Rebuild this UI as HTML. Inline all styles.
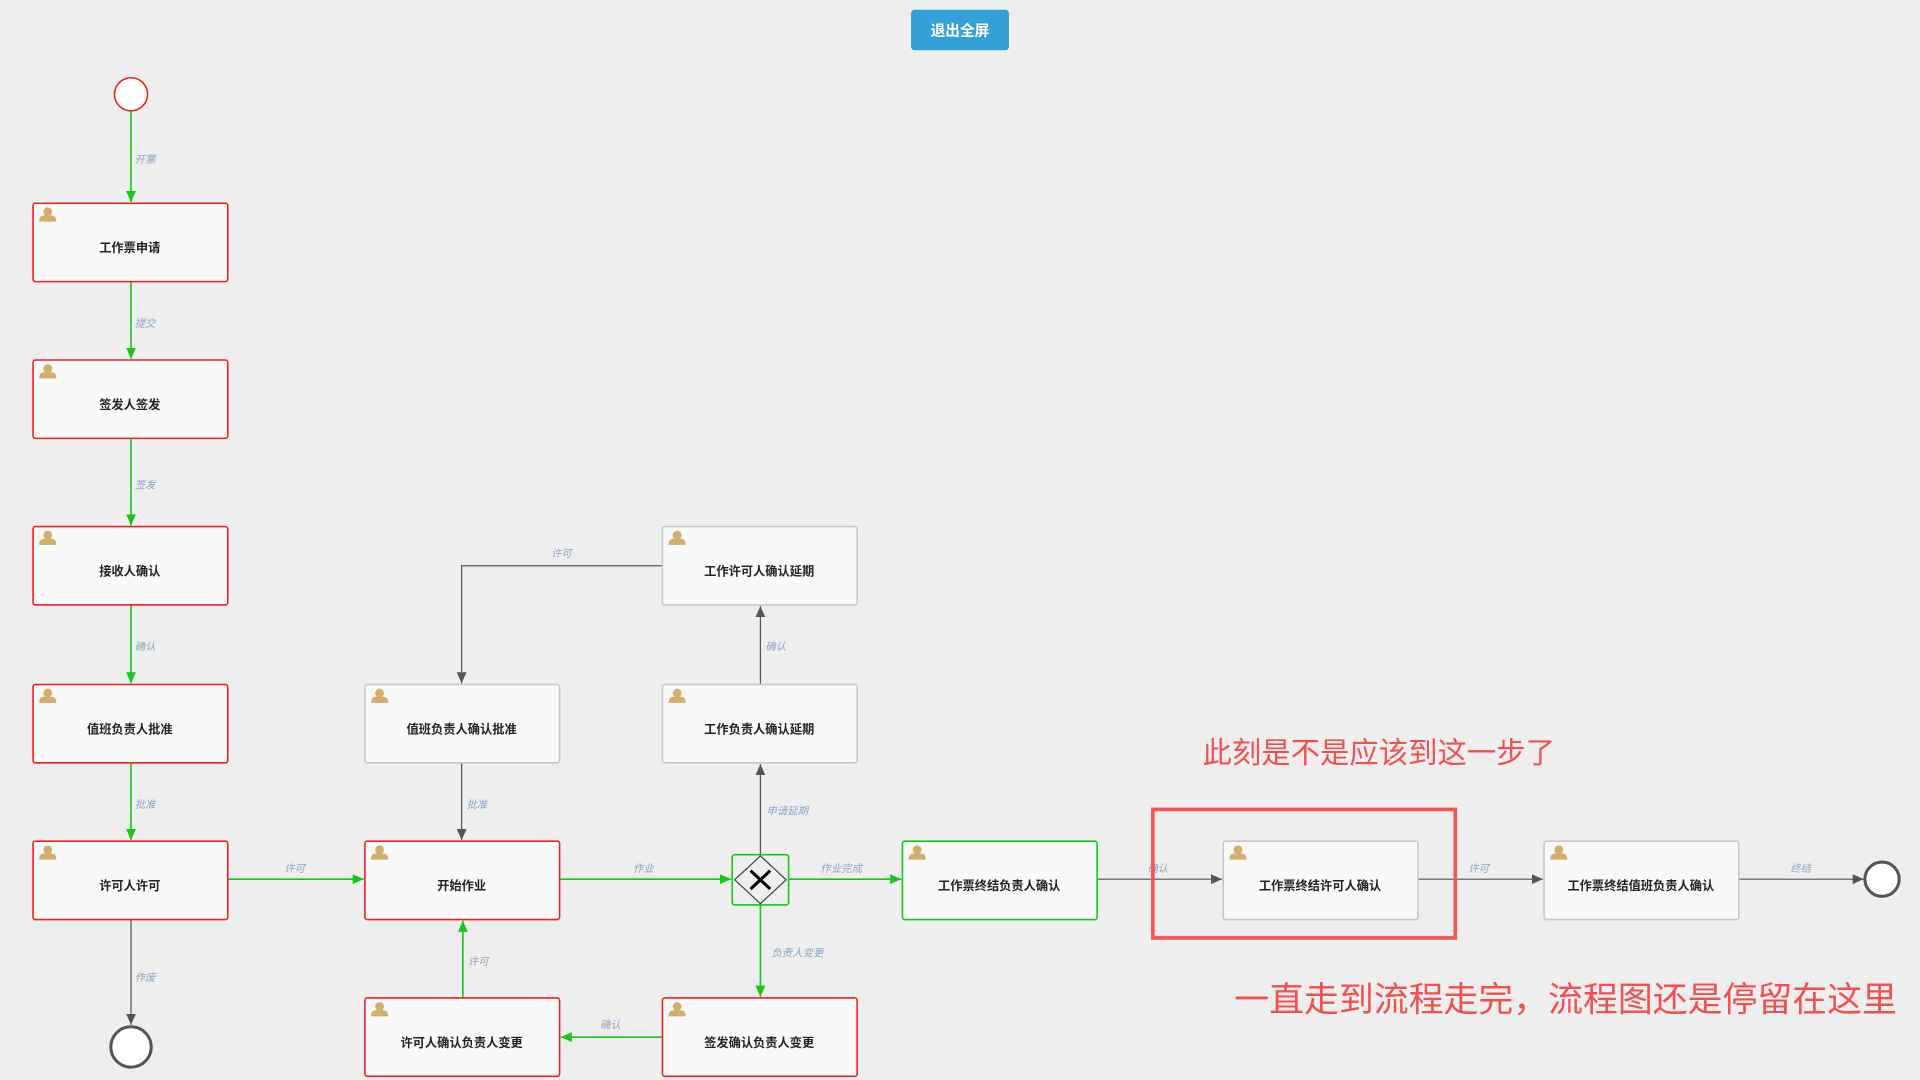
<!DOCTYPE html>
<html><head><meta charset="utf-8"><style>
html,body{margin:0;padding:0;background:#eeeeee;}
svg{display:block;}
.bt{font-family:"Liberation Sans","Noto Sans CJK SC",sans-serif;font-size:10px;font-weight:bold;fill:#222;text-anchor:middle;}
.lb{font-family:"Liberation Sans","Noto Sans CJK SC",sans-serif;font-size:8.5px;font-style:italic;fill:#8ea4c6;}
.ann{font-family:"Liberation Sans","Noto Sans CJK SC",sans-serif;fill:#f05050;}
</style></head><body>
<svg width="1920" height="1080" viewBox="0 0 1568 882" xmlns="http://www.w3.org/2000/svg">
<defs>
<marker id="ag" markerWidth="10" markerHeight="10" refX="9" refY="5" orient="auto" markerUnits="userSpaceOnUse"><path d="M0,1 L9,5 L0,9 z" fill="#14c814"/></marker>
<marker id="ak" markerWidth="10" markerHeight="10" refX="9" refY="5" orient="auto" markerUnits="userSpaceOnUse"><path d="M0,1 L9,5 L0,9 z" fill="#555"/></marker>
<g id="person"><circle cx="0" cy="-3" r="3.6" fill="#d2ad6c"/><path d="M-7,5 Q-7,0 -3,0 L3,0 Q7,0 7,5 Z" fill="#d2ad6c"/></g>
</defs>
<rect x="744" y="8" width="80" height="33" rx="3" fill="#35a0d6"/>
<text x="784" y="29" font-family="Liberation Sans,Noto Sans CJK SC,sans-serif" font-size="12" font-weight="bold" fill="#fff" text-anchor="middle">退出全屏</text>

<!-- edges green -->
<g stroke="#14c814" stroke-width="1.3" fill="none" marker-end="url(#ag)">
<line x1="107" y1="90" x2="107" y2="165"/>
<line x1="107" y1="230" x2="107" y2="293"/>
<line x1="107" y1="358" x2="107" y2="429"/>
<line x1="107" y1="494" x2="107" y2="558"/>
<line x1="107" y1="623" x2="107" y2="686"/>
<line x1="186" y1="718" x2="297" y2="718"/>
<line x1="457" y1="718" x2="597" y2="718"/>
<line x1="644" y1="718" x2="736" y2="718"/>
<line x1="621" y1="739" x2="621" y2="814"/>
<line x1="541" y1="847" x2="458" y2="847"/>
<line x1="378" y1="815" x2="378" y2="752"/>
</g>
<g stroke="#555" stroke-width="1" fill="none" marker-end="url(#ak)">
<line x1="107" y1="751" x2="107" y2="837"/>
<line x1="896" y1="718" x2="998" y2="718"/>
<line x1="1158" y1="718" x2="1260" y2="718"/>
<line x1="1420" y1="718" x2="1522" y2="718"/>
<line x1="621" y1="698" x2="621" y2="624"/>
<line x1="621" y1="559" x2="621" y2="495"/>
<polyline points="541,462 377,462 377,558"/>
<line x1="377" y1="623" x2="377" y2="686"/>
</g>
<g class="lb">
<text x="110" y="133">开票</text><text x="110" y="267">提交</text><text x="110" y="399">签发</text>
<text x="110" y="531">确认</text><text x="110" y="660">批准</text><text x="110" y="801">作废</text>
<text x="232" y="712">许可</text><text x="517" y="712">作业</text><text x="670" y="712">作业完成</text>
<text x="937" y="712">确认</text><text x="1199" y="712">许可</text><text x="1462" y="712">终结</text>
<text x="626" y="665">申请延期</text><text x="625" y="531">确认</text><text x="450" y="455">许可</text>
<text x="381" y="660">批准</text><text x="630" y="781">负责人变更</text><text x="490" y="840">确认</text>
<text x="382" y="788">许可</text>
</g>

<circle cx="107" cy="77" r="13.5" fill="#fff" stroke="#f02020" stroke-width="1.3"/>
<circle cx="107" cy="855" r="16.5" fill="#fff" stroke="#555" stroke-width="2.5"/>
<circle cx="1537" cy="718" r="14" fill="#fff" stroke="#555" stroke-width="2.5"/>

<!-- boxes -->
<g stroke-width="1.3">
<rect x="27" y="166" width="159" height="64" rx="2" fill="#f9f9f9" stroke="#f02020"/>
<rect x="27" y="294" width="159" height="64" rx="2" fill="#f9f9f9" stroke="#f02020"/>
<rect x="27" y="430" width="159" height="64" rx="2" fill="#f9f9f9" stroke="#f02020"/>
<rect x="27" y="559" width="159" height="64" rx="2" fill="#f9f9f9" stroke="#f02020"/>
<rect x="27" y="687" width="159" height="64" rx="2" fill="#f9f9f9" stroke="#f02020"/>
<rect x="298" y="559" width="159" height="64" rx="2" fill="#f9f9f9" stroke="#c8c8c8"/>
<rect x="298" y="687" width="159" height="64" rx="2" fill="#f9f9f9" stroke="#f02020"/>
<rect x="298" y="815" width="159" height="64" rx="2" fill="#f9f9f9" stroke="#f02020"/>
<rect x="541" y="430" width="159" height="64" rx="2" fill="#f9f9f9" stroke="#c8c8c8"/>
<rect x="541" y="559" width="159" height="64" rx="2" fill="#f9f9f9" stroke="#c8c8c8"/>
<rect x="541" y="815" width="159" height="64" rx="2" fill="#f9f9f9" stroke="#f02020"/>
<rect x="737" y="687" width="159" height="64" rx="2" fill="#f9f9f9" stroke="#14c814"/>
<rect x="999" y="687" width="159" height="64" rx="2" fill="#f9f9f9" stroke="#c8c8c8"/>
<rect x="1261" y="687" width="159" height="64" rx="2" fill="#f9f9f9" stroke="#c8c8c8"/>
</g>
<g>
<use href="#person" x="39" y="176"/><use href="#person" x="39" y="304"/><use href="#person" x="39" y="440"/>
<use href="#person" x="39" y="569"/><use href="#person" x="39" y="697"/><use href="#person" x="310" y="569"/>
<use href="#person" x="310" y="697"/><use href="#person" x="310" y="825"/><use href="#person" x="553" y="440"/>
<use href="#person" x="553" y="569"/><use href="#person" x="553" y="825"/><use href="#person" x="749" y="697"/>
<use href="#person" x="1011" y="697"/><use href="#person" x="1273" y="697"/>
</g>
<g class="bt">
<text x="106" y="206">工作票申请</text><text x="106" y="334">签发人签发</text><text x="106" y="470">接收人确认</text>
<text x="106" y="599">值班负责人批准</text><text x="106" y="727">许可人许可</text>
<text x="377" y="599">值班负责人确认批准</text><text x="377" y="727">开始作业</text><text x="377" y="855">许可人确认负责人变更</text>
<text x="620" y="470">工作许可人确认延期</text><text x="620" y="599">工作负责人确认延期</text><text x="620" y="855">签发确认负责人变更</text>
<text x="816" y="727">工作票终结负责人确认</text><text x="1078" y="727">工作票终结许可人确认</text><text x="1340" y="727">工作票终结值班负责人确认</text>
</g>

<!-- gateway -->
<rect x="598" y="698" width="46" height="41" rx="2" fill="#eee" stroke="#14c814" stroke-width="1.3"/>
<path d="M621,699 L642,718.5 L621,738 L600,718.5 Z" fill="none" stroke="#444" stroke-width="1"/>
<path d="M613,711 L629,726 M629,711 L613,726" stroke="#000" stroke-width="2.5"/>

<!-- annotation -->
<rect x="941.5" y="661" width="247" height="105" fill="none" stroke="#f55555" stroke-width="3"/>
<text class="ann" x="982" y="623" font-size="24">此刻是不是应该到这一步了</text>
<text class="ann" x="1008" y="826" font-size="28.5">一直走到流程走完，流程图还是停留在这里</text>
</svg>
</body></html>
